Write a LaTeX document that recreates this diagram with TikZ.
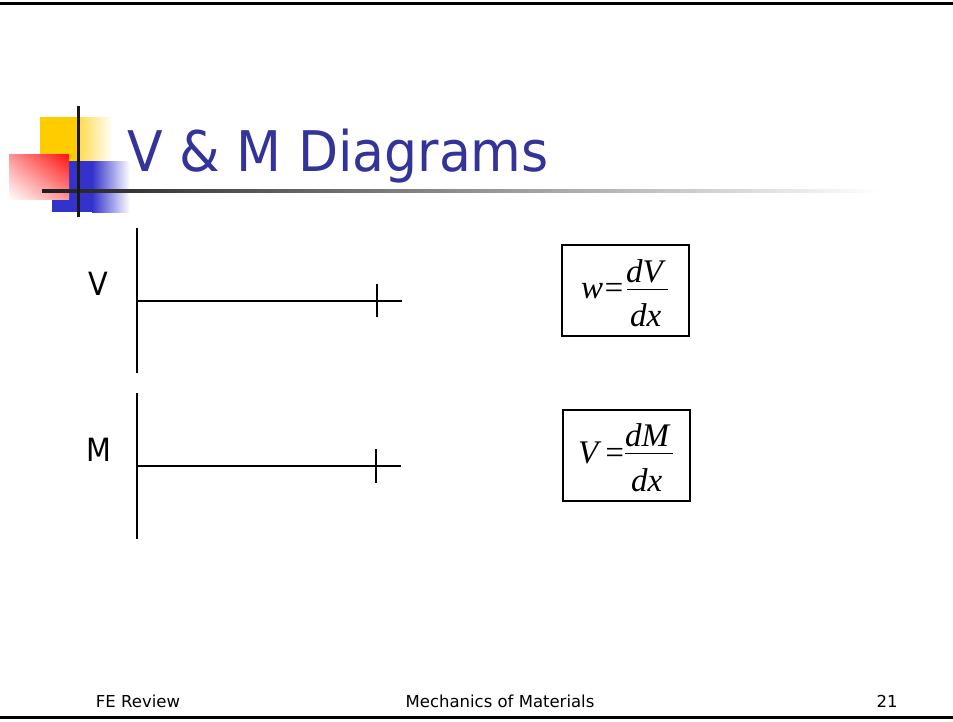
\documentclass[tikz,border=0pt]{standalone}
\usepackage{fontspec}
\usetikzlibrary{shadings}
\setmainfont{DejaVu Sans}
\newfontfamily\timesf{Liberation Serif}
\definecolor{titleblue}{HTML}{333399}
\definecolor{logoyellow}{HTML}{FFCC00}
\definecolor{logoblue}{HTML}{3333CC}
\definecolor{logored}{HTML}{FF1010}
\tikzset{
  axisline/.style={line width=2pt, black},
  tickline/.style={line width=1.2pt, black},
  eqbox/.style={draw, line width=1.6pt, minimum width=127pt, minimum height=91pt, inner sep=0pt},
  eqtext/.style={anchor=base west, inner sep=0pt, font=\timesf\fontsize{33}{33}\selectfont},
  lbl/.style={inner sep=0pt, font=\fontsize{32}{32}\selectfont},
  foot/.style={anchor=base, inner sep=0pt, font=\fontsize{16.5}{16.5}\selectfont}
}
\begin{document}
\begin{tikzpicture}[x=1pt,y=-1pt]
\useasboundingbox (0,0) rectangle (953,721);
% frame lines
\fill[black] (0,1.5) rectangle (953,4.5);
\fill[black] (0,715.5) rectangle (953,718.5);
% logo
\fill[logoyellow] (40,117) rectangle (78,162);
\shade[left color=logoyellow!70!white, right color=white] (78,117) rectangle (113,162);
\fill[logoblue] (52,161) rectangle (92,212);
\shade[left color=logoblue, right color=white] (92,161) rectangle (130,212);
\shade[upper left=logored!45!white, upper right=logored, lower left=white, lower right=logored!45!white] (9,154) rectangle (69,199);
\shade[left color=black!88, middle color=black!62, right color=white] (42,189.5) rectangle (880,192.5);
\fill[black!90] (76.5,106) rectangle (79.5,217);
% title
\node[anchor=base west, inner sep=0pt, text=titleblue] (title) at (127,171)
  {\scalebox{0.93}[1]{\fontsize{56}{56}\selectfont V \& M Diagrams}};
% V diagram
\coordinate (vtop) at (137,228);
\coordinate (vbot) at (137,373);
\coordinate (vo) at (137,301);
\coordinate (vend) at (402,301);
\coordinate (vt1) at (377,284);
\coordinate (vt2) at (377,317);
\draw[axisline] (vtop) -- (vbot);
\draw[axisline] (vo) -- (vend);
\draw[tickline] (vt1) -- (vt2);
\node[lbl] (vlabel) at (98.5,283.5) {\scalebox{0.9}[1]{V}};
% M diagram
\coordinate (mtop) at (137,393);
\coordinate (mbot) at (137,539);
\coordinate (mo) at (137,466);
\coordinate (mend) at (401,466);
\coordinate (mt1) at (376,449);
\coordinate (mt2) at (376,483);
\draw[axisline] (mtop) -- (mbot);
\draw[axisline] (mo) -- (mend);
\draw[tickline] (mt1) -- (mt2);
\node[lbl] (mlabel) at (99,450) {\scalebox{0.9}[1]{M}};
% equation 1
\node[eqbox] (box1) at (625.5,290.5) {};
\node[eqtext] (w) at (581,298) {\itshape w\kern-0.5pt=};
\node[eqtext] (dV) at (626,282.5) {\itshape dV};
\node[eqtext] (dx1) at (630,326) {\itshape dx};
\coordinate (bar1a) at (627,289);
\coordinate (bar1b) at (668,289);
\draw[line width=1pt] (bar1a) -- (bar1b);
% equation 2
\node[eqbox] (box2) at (626.5,455.5) {};
\node[eqtext] (V2) at (578,463) {\itshape V\kern5pt=};
\node[eqtext] (dM) at (625,446.5) {\itshape dM};
\node[eqtext] (dx2) at (631,491) {\itshape dx};
\coordinate (bar2a) at (625,453);
\coordinate (bar2b) at (673,453);
\draw[line width=1pt] (bar2a) -- (bar2b);
% footer
\node[foot] (f1) at (138,707) {FE Review};
\node[foot] (f2) at (500,707) {Mechanics of Materials};
\node[foot] (f3) at (887,707) {21};
\end{tikzpicture}
\end{document}
